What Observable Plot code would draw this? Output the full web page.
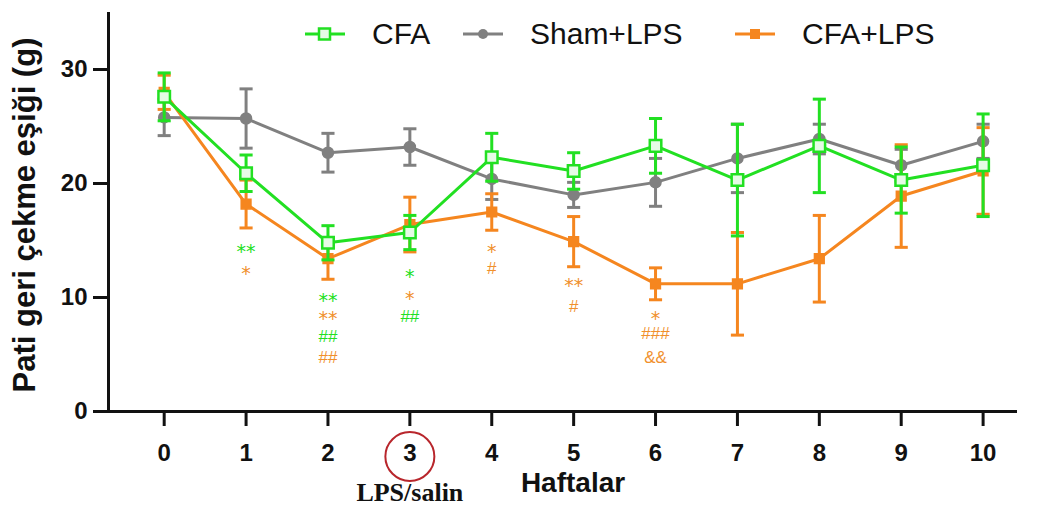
<!DOCTYPE html>
<html>
<head>
<meta charset="utf-8">
<script src="https://cdn.jsdelivr.net/npm/d3@7"></script>
<script src="https://cdn.jsdelivr.net/npm/@observablehq/plot@0.6"></script>
<style>
  html, body { margin: 0; padding: 0; background: #fff; }
  #wrap { position: relative; width: 1040px; height: 514px; font-family: "Liberation Sans", Arial, sans-serif; }
  #legend { position: absolute; left: 0; top: 0; width: 1040px; height: 70px; pointer-events: none; }
  .item { position: absolute; top: 14px; height: 40px; display: flex; align-items: center; }
  .item svg { width: 44px; height: 20px; margin-right: 25px; }
  .item span { font-size: 30px; color: #111; line-height: 40px; }
  [aria-label="x-axis tick label"], [aria-label="y-axis tick label"] { font-weight: bold; }
</style>
</head>
<body>
<div id="wrap"><div id="legend"></div></div>
<script>
// ---- data ----
const weeks = [0, 1, 2, 3, 4, 5, 6, 7, 8, 9, 10];
const yTicks = [0, 10, 20, 30];
const seriesNames = ["CFA", "Sham+LPS", "CFA+LPS"];
const seriesColors = ["#22e022", "#808080", "#f5861f"];

const cfaMean   = [27.6, 20.9, 14.8, 15.7, 22.3, 21.1, 23.3, 20.3, 23.3, 20.3, 21.6];
const cfaErr    = [2.1, 1.6, 1.5, 1.5, 2.1, 1.6, 2.4, 4.9, 4.1, 2.9, 4.5];
const shamMean  = [25.8, 25.7, 22.7, 23.2, 20.4, 19.0, 20.1, 22.2, 23.9, 21.6, 23.7];
const shamErr   = [1.6, 2.6, 1.7, 1.6, 1.8, 1.1, 2.1, 3.0, 1.3, 1.4, 1.5];
const cfaLpsMean = [28.0, 18.2, 13.4, 16.4, 17.5, 14.9, 11.2, 11.2, 13.4, 18.9, 21.1];
const cfaLpsErr  = [1.5, 2.1, 1.8, 2.4, 1.6, 2.2, 1.4, 4.5, 3.8, 4.5, 3.8];

// significance labels: week, label, group (0 = CFA colour, 2 = CFA+LPS colour), y in g
const sigWeek  = [1, 1, 2, 2, 2, 2, 3, 3, 3, 4, 4, 5, 5, 6, 6, 6];
const sigLabel = ["**", "*", "**", "**", "##", "##", "*", "*", "##", "*", "#", "**", "#", "*", "###", "&&"];
const sigGroup = [0, 2, 0, 2, 0, 2, 0, 2, 0, 2, 2, 2, 2, 2, 2, 2];
const sigY     = [14.0, 12.1, 9.7, 8.1, 6.6, 4.7, 11.8, 9.9, 8.3, 14.0, 12.5, 11.0, 9.2, 8.1, 6.8, 4.7];

const xLabel = "Haftalar";
const yLabel = "Pati geri çekme eşiği (g)";
const markerWeek = 3;
const markerLabel = "LPS/salin";

// ---- build ----
const means = [cfaMean, shamMean, cfaLpsMean];
const errs = [cfaErr, shamErr, cfaLpsErr];
const rowsOf = k => weeks.map((w, i) => ({ series: seriesNames[k], week: w, value: means[k][i], err: errs[k][i] }));
const sig = sigWeek.map((w, i) => ({ week: w, label: sigLabel[i], group: sigGroup[i], y: sigY[i] }));
const isStar = d => d.label.includes("*");

const xDomain = [-0.68, 10.42];
const cap = 0.08;

function seriesMarks(k) {
  const d = rowsOf(k);
  const c = seriesColors[k];
  const marks = [
    Plot.ruleX(d, { x: "week", y1: r => r.value - r.err, y2: r => r.value + r.err, stroke: c, strokeWidth: 3 }),
    Plot.link(d, { x1: r => r.week - cap, x2: r => r.week + cap, y1: r => r.value + r.err, y2: r => r.value + r.err, stroke: c, strokeWidth: 3 }),
    Plot.link(d, { x1: r => r.week - cap, x2: r => r.week + cap, y1: r => r.value - r.err, y2: r => r.value - r.err, stroke: c, strokeWidth: 3 }),
    Plot.line(d, { x: "week", y: "value", stroke: c, strokeWidth: 3 })
  ];
  if (k === 0) marks.push(Plot.dot(d, { x: "week", y: "value", symbol: "square", r: 6.5, stroke: c, strokeWidth: 2.5, fill: "#e6fbe6" }));
  if (k === 1) marks.push(Plot.dot(d, { x: "week", y: "value", symbol: "circle", r: 5.5, fill: c, stroke: c }));
  if (k === 2) marks.push(Plot.dot(d, { x: "week", y: "value", symbol: "square", r: 5.5, fill: c, stroke: c }));
  return marks;
}

function sigMarks(group, color) {
  const d = sig.filter(s => s.group === group);
  return [
    Plot.text(d.filter(isStar), { x: "week", y: "y", text: "label", fill: color, fontSize: 19, fontWeight: "normal", fontFamily: "'DejaVu Sans', sans-serif" }),
    Plot.text(d.filter(s => !isStar(s)), { x: "week", y: "y", text: "label", fill: color, fontSize: 17, fontWeight: "normal" })
  ];
}

const chart = Plot.plot({
  width: 1040,
  height: 514,
  marginLeft: 108,
  marginRight: 23,
  marginTop: 12,
  marginBottom: 103,
  style: { fontFamily: "'Liberation Sans', Arial, sans-serif", background: "white", overflow: "visible", color: "#111" },
  x: { domain: xDomain },
  y: { domain: [0, 35] },
  marks: [
    Plot.axisY({ ticks: yTicks, tickSize: 15, tickPadding: 6, fontSize: 24, fontWeight: "bold", strokeWidth: 3, label: null }),
    Plot.axisX({ ticks: weeks, tickSize: 15, tickPadding: 17, fontSize: 24, fontWeight: "bold", strokeWidth: 3, label: null }),
    Plot.ruleY([0], { strokeWidth: 3, stroke: "#111" }),
    Plot.ruleX([xDomain[0]], { strokeWidth: 3, stroke: "#111" }),
    ...seriesMarks(1),
    ...seriesMarks(2),
    ...seriesMarks(0),
    ...sigMarks(0, seriesColors[0]),
    ...sigMarks(2, "#f0902c"),
    Plot.text([xLabel], { frameAnchor: "bottom", dy: 80, dx: 10, fontSize: 28, fontWeight: "bold", fill: "#111" }),
    Plot.text([yLabel], { frameAnchor: "left", textAnchor: "middle", dx: -83, dy: 3, rotate: -90, fontSize: 31, fontWeight: "bold", fill: "#111" }),
    Plot.dot([{ week: markerWeek }], { x: "week", frameAnchor: "bottom", dy: 45, r: 24.5, stroke: "#b8262c", strokeWidth: 2, fill: "none" }),
    Plot.text([{ week: markerWeek, label: markerLabel }], { x: "week", text: "label", frameAnchor: "bottom", dy: 89, fontSize: 26, fontWeight: "bold", fontFamily: "'Liberation Serif', 'Times New Roman', serif", fill: "#111" })
  ]
});
document.getElementById("wrap").prepend(chart);

// ---- legend ----
const legendLeft = [303, 461, 733];
const legend = document.getElementById("legend");
seriesNames.forEach((name, k) => {
  const c = seriesColors[k];
  let marker;
  if (k === 0) marker = `<rect x="16" y="4.5" width="11" height="11" fill="#e6fbe6" stroke="${c}" stroke-width="2.5"/>`;
  else if (k === 1) marker = `<circle cx="22" cy="10" r="5" fill="${c}"/>`;
  else marker = `<rect x="17" y="5" width="10" height="10" fill="${c}"/>`;
  const item = document.createElement("div");
  item.className = "item";
  item.style.left = legendLeft[k] + "px";
  item.innerHTML = `<svg viewBox="0 0 44 20"><line x1="2" x2="42" y1="10" y2="10" stroke="${c}" stroke-width="3"/>${marker}</svg><span>${name}</span>`;
  legend.appendChild(item);
});
</script>
</body>
</html>
